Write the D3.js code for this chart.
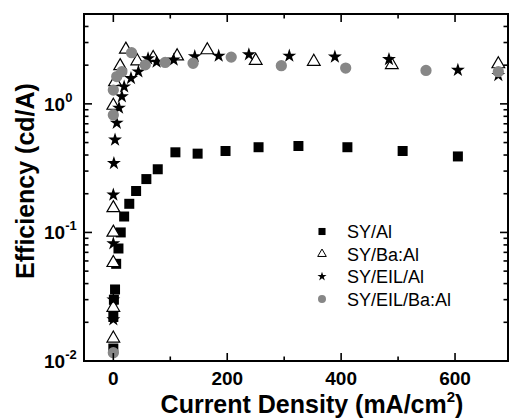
<!DOCTYPE html>
<html>
<head>
<meta charset="utf-8">
<script src="https://cdn.jsdelivr.net/npm/d3@7"></script>
<style>
  body { margin: 0; background: #fff; }
  #chart { width: 512px; height: 418px; display: block; }
  text { font-family: 'Liberation Sans', Arial, sans-serif; }
</style>
</head>
<body>
<svg id="chart" width="512" height="418"></svg>
<script>
// series data: [current density (mA/cm2), efficiency (cd/A)]
const syAl = [
  [0, 0.0125], [0, 0.022], [1, 0.030], [3, 0.036], [5, 0.057], [9, 0.075],
  [13, 0.1], [19, 0.133], [28, 0.167], [40, 0.21], [58, 0.26], [78, 0.31],
  [109, 0.42], [148, 0.41], [197, 0.43], [255, 0.46], [325, 0.47],
  [411, 0.46], [508, 0.43], [605, 0.39]
]
const syBaAl = [
  [0, 0.015], [0, 0.026], [0, 0.058], [0, 0.1], [0, 0.155], [0, 0.97],
  [3, 1.48], [12, 1.97], [22, 2.65], [42, 2.15], [70, 2.28], [112, 2.35],
  [165, 2.62], [250, 2.17], [352, 2.13], [489, 2.01], [676, 2.04]
]
const syEilAl = [
  [0, 0.021], [0, 0.03], [0, 0.082], [0, 0.196], [1, 0.345], [3, 0.525],
  [6, 0.71], [10, 0.93], [15, 1.14], [19, 1.36], [31, 1.58], [44, 1.78],
  [61, 2.25], [76, 2.12], [106, 2.2], [143, 2.34], [185, 2.36], [238, 2.42],
  [309, 2.36], [389, 2.32], [484, 2.22], [605, 1.83], [676, 1.67]
]
const syEilBaAl = [
  [0, 0.0116], [0, 0.82], [0, 1.28], [6, 1.63], [15, 1.78], [32, 2.5],
  [56, 2.01], [91, 2.1], [140, 2.07], [207, 2.31], [295, 1.98], [408, 1.9],
  [549, 1.82], [676, 1.78]
]

const seriesNames = ['SY/Al', 'SY/Ba:Al', 'SY/EIL/Al', 'SY/EIL/Ba:Al']
const xTicks = [0, 200, 400, 600]
const xMinorTicks = [100, 300, 500]
const yTicks = [0.01, 0.1, 1]
const yTickExponents = ['-2', '-1', '0']

function makeChart() {
  const svg = d3.select('#chart')

  // plot frame edges
  const left = 84, right = 508, top = 14, bottom = 361

  const scaleX = d3.scaleLinear()
    .domain([-51.5, 693])
    .range([left, right])

  const scaleY = d3.scaleLog()
    .domain([0.01, 5])
    .range([bottom, top])

  // minor ticks for log axis: 2..9 of each decade
  const yMinor = []
  ;[0.01, 0.1, 1].forEach(dec => {
    for (let k = 2; k <= 9; k++) {
      const v = dec * k
      if (v <= 5) yMinor.push(v)
    }
  })

  const grey = '#878787'

  // marker styles for every series
  const styles = [
    { data: syAl, type: d3.symbolSquare, size: 100, fill: '#000', stroke: 'none', legendSize: 50 },
    { data: syBaAl, type: d3.symbolTriangle, size: 70, fill: '#fff', stroke: '#000', legendSize: 32 },
    { data: syEilAl, type: d3.symbolStar, size: 60, fill: '#000', stroke: 'none', legendSize: 26 },
    { data: syEilBaAl, type: d3.symbolCircle, size: 100, fill: grey, stroke: 'none', legendSize: 50 },
  ]

  // drawing points
  const marks = svg.append('g')
  styles.forEach(s => {
    marks.append('g')
      .selectAll('path')
      .data(s.data)
      .join('path')
      .attr('transform', d => `translate(${scaleX(d[0])},${scaleY(d[1])})`)
      .attr('d', d3.symbol().type(s.type).size(s.size))
      .attr('fill', s.fill)
      .attr('stroke', s.stroke)
      .attr('stroke-width', 1.2)
  })

  // frame and inward ticks
  const axes = svg.append('g')
    .attr('stroke', '#000')

  axes.append('rect')
    .attr('x', left)
    .attr('y', top)
    .attr('width', right - left)
    .attr('height', bottom - top)
    .attr('fill', 'none')
    .attr('stroke-width', 2)

  const majorLen = 8, minorLen = 4.5

  // bottom and top ticks
  const xTickData = xTicks.map(v => [v, majorLen]).concat(xMinorTicks.map(v => [v, minorLen]))
  axes.selectAll('.xb')
    .data(xTickData)
    .join('line')
    .attr('x1', d => scaleX(d[0])).attr('x2', d => scaleX(d[0]))
    .attr('y1', bottom).attr('y2', d => bottom - d[1])
    .attr('stroke-width', 1.6)
  axes.selectAll('.xt')
    .data(xTickData)
    .join('line')
    .attr('x1', d => scaleX(d[0])).attr('x2', d => scaleX(d[0]))
    .attr('y1', top).attr('y2', d => top + d[1])
    .attr('stroke-width', 1.6)

  // left and right ticks
  const yTickData = yTicks.map(v => [v, majorLen]).concat(yMinor.map(v => [v, minorLen]))
  axes.selectAll('.yl')
    .data(yTickData)
    .join('line')
    .attr('y1', d => scaleY(d[0])).attr('y2', d => scaleY(d[0]))
    .attr('x1', left).attr('x2', d => left + d[1])
    .attr('stroke-width', 1.6)
  axes.selectAll('.yr')
    .data(yTickData)
    .join('line')
    .attr('y1', d => scaleY(d[0])).attr('y2', d => scaleY(d[0]))
    .attr('x1', right).attr('x2', d => right - d[1])
    .attr('stroke-width', 1.6)

  // x tick labels
  svg.append('g')
    .selectAll('text')
    .data(xTicks)
    .join('text')
    .attr('x', d => scaleX(d))
    .attr('y', 385)
    .attr('text-anchor', 'middle')
    .attr('font-size', 19)
    .attr('font-weight', 'bold')
    .text(d => d)

  // y tick labels with superscript exponent
  const yLabels = svg.append('g')
    .selectAll('text')
    .data(yTicks)
    .join('text')
    .attr('x', 44)
    .attr('y', d => scaleY(d) + 7)
    .attr('font-size', 19)
    .attr('font-weight', 'bold')
  yLabels.append('tspan').text('10')
  yLabels.append('tspan')
    .attr('dy', -9)
    .attr('font-size', 13)
    .text((d, i) => yTickExponents[i])

  // axis titles
  const xTitle = svg.append('text')
    .attr('x', 312)
    .attr('y', 413)
    .attr('text-anchor', 'middle')
    .attr('font-size', 25)
    .attr('font-weight', 'bold')
  xTitle.append('tspan').text('Current Density (mA/cm')
  xTitle.append('tspan').attr('dy', -11).attr('font-size', 15).text('2')
  xTitle.append('tspan').attr('dy', 11).text(')')

  svg.append('text')
    .attr('transform', 'translate(34,181) rotate(-90)')
    .attr('text-anchor', 'middle')
    .attr('font-size', 25)
    .attr('font-weight', 'bold')
    .text('Efficiency (cd/A)')

  // legend
  const legend = svg.append('g')
    .selectAll('g')
    .data(styles)
    .join('g')
    .attr('transform', (d, i) => `translate(322,${231.5 + i * 22.5})`)
  legend.append('path')
    .attr('d', d => d3.symbol().type(d.type).size(d.legendSize)())
    .attr('fill', d => d.fill)
    .attr('stroke', d => d.stroke)
    .attr('stroke-width', 1)
  legend.append('text')
    .attr('x', 25)
    .attr('y', 6.5)
    .attr('font-size', 18)
    .text((d, i) => seriesNames[i])
}

window.onload = makeChart
</script>
</body>
</html>
